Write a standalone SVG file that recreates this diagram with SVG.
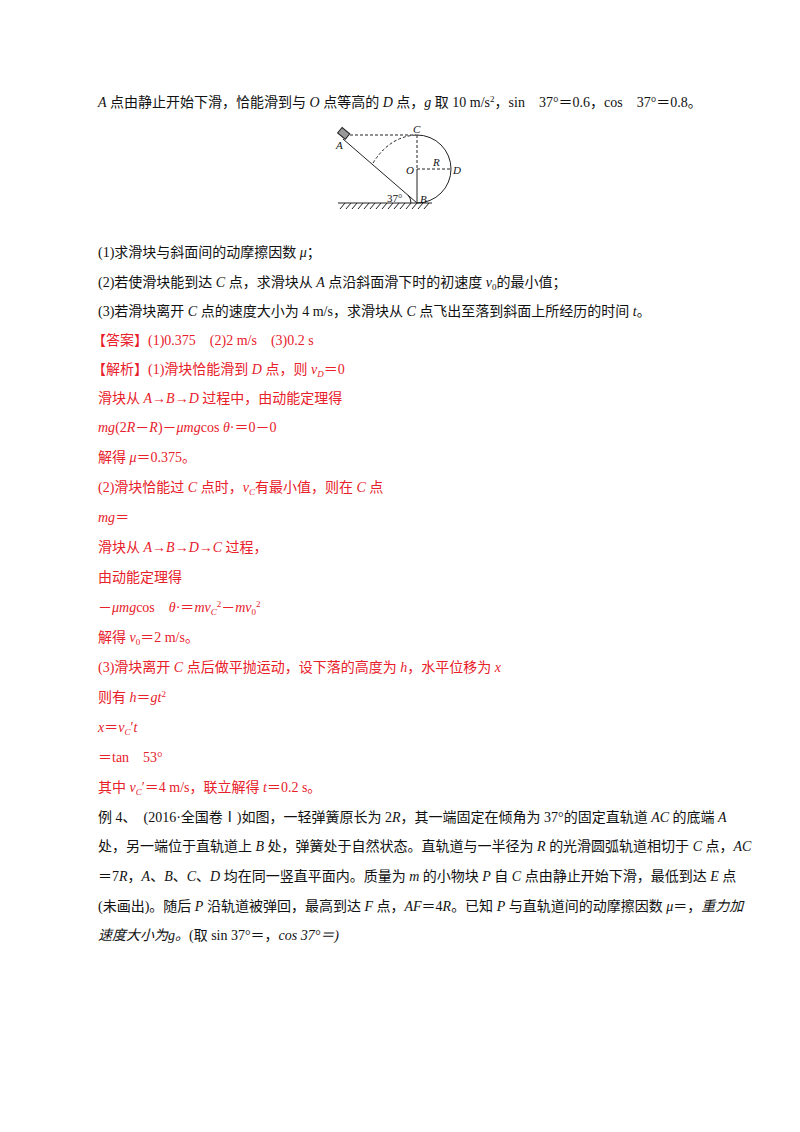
<svg xmlns="http://www.w3.org/2000/svg" width="800" height="1132" viewBox="0 0 800 1132">
<style>
text{font-family:"Liberation Serif","Noto Sans CJK SC",serif;font-size:14px;fill:#111}
.r{fill:#e8202a}
.i{font-style:italic}
.s{font-size:9px}
.f line,.f path{stroke:#222;stroke-width:1;fill:none}
.d{stroke-dasharray:3,2}
.l{font-family:"Liberation Serif",serif;font-size:11px;font-style:italic}
</style>
<rect width="800" height="1132" fill="#fff"/>
<text x="98" y="107"><tspan class="i">A</tspan> 点由静止开始下滑，恰能滑到与 <tspan class="i">O</tspan> 点等高的 <tspan class="i">D</tspan> 点，<tspan class="i">g</tspan> 取 10 m/s<tspan class="s" dy="-5">2</tspan><tspan dy="5">，sin　37°＝0.6，cos　37°＝0.8。</tspan></text>
<g id="figure" class="f">
<line x1="338" y1="203" x2="432" y2="203"/>
<path d="M340 209l5-6M346 209l5-6M352 209l5-6M358 209l5-6M364 209l5-6M370 209l5-6M376 209l5-6M382 209l5-6M388 209l5-6M394 209l5-6M400 209l5-6M406 209l5-6M412 209l5-6M418 209l5-6M424 209l5-6"/>
<line x1="343" y1="139" x2="417" y2="203"/>
<rect x="339" y="130" width="10" height="7" transform="rotate(40 344 133)" fill="#999" stroke="#222"/>
<line class="d" x1="350" y1="135" x2="417" y2="135"/>
<line class="d" x1="417" y1="135" x2="417" y2="169"/>
<line x1="417" y1="169" x2="417" y2="203"/>
<line class="d" x1="417" y1="169" x2="451" y2="169"/>
<path d="M417 135A34 34 0 0 1 417 203"/>
<path class="d" d="M373 163Q390 136 417 135"/>
<path d="M408 195A12 12 0 0 1 411 203"/>
<text class="l" x="336" y="149">A</text>
<text class="l" x="413" y="133">C</text>
<text class="l" x="406" y="174">O</text>
<text class="l" x="433" y="166">R</text>
<text class="l" x="453" y="174">D</text>
<text class="l" x="420" y="203">B</text>
<text class="l" x="387" y="202" style="font-style:normal">37°</text>
</g>
<text x="98" y="257">(1)求滑块与斜面间的动摩擦因数 <tspan class="i">μ</tspan>；</text>
<text x="98" y="287">(2)若使滑块能到达 <tspan class="i">C</tspan> 点，求滑块从 <tspan class="i">A</tspan> 点沿斜面滑下时的初速度 <tspan class="i">v</tspan><tspan class="s" dy="3">0</tspan><tspan dy="-3">的最小值；</tspan></text>
<text x="98" y="316">(3)若滑块离开 <tspan class="i">C</tspan> 点的速度大小为 4 m/s，求滑块从 <tspan class="i">C</tspan> 点飞出至落到斜面上所经历的时间 <tspan class="i">t</tspan>。</text>
<text class="r" x="92" y="345">【答案】(1)0.375　(2)2  m/s　(3)0.2 s</text>
<text class="r" x="92" y="374">【解析】(1)滑块恰能滑到 <tspan class="i">D</tspan> 点，则 <tspan class="i">v</tspan><tspan class="s i" dy="3">D</tspan><tspan dy="-3">＝0</tspan></text>
<text class="r" x="98" y="403">滑块从 <tspan class="i">A</tspan>→<tspan class="i">B</tspan>→<tspan class="i">D</tspan> 过程中，由动能定理得</text>
<text class="r" x="98" y="432"><tspan class="i">mg</tspan>(2<tspan class="i">R</tspan>－<tspan class="i">R</tspan>)－<tspan class="i">μmg</tspan>cos  <tspan class="i">θ</tspan>·＝0－0</text>
<text class="r" x="98" y="462">解得 <tspan class="i">μ</tspan>＝0.375。</text>
<text class="r" x="98" y="492">(2)滑块恰能过 <tspan class="i">C</tspan> 点时，<tspan class="i">v</tspan><tspan class="s i" dy="3">C</tspan><tspan dy="-3">有最小值，则在 </tspan><tspan class="i">C</tspan> 点</text>
<text class="r i" x="98" y="522">mg<tspan style="font-style:normal">＝</tspan></text>
<text class="r" x="98" y="552">滑块从 <tspan class="i">A</tspan>→<tspan class="i">B</tspan>→<tspan class="i">D</tspan>→<tspan class="i">C</tspan> 过程，</text>
<text class="r" x="98" y="582">由动能定理得</text>
<text class="r" x="98" y="612">－<tspan class="i">μmg</tspan>cos　<tspan class="i">θ</tspan>·＝<tspan class="i">mv</tspan><tspan class="s i" dy="3">C</tspan><tspan class="s" dy="-8">2</tspan><tspan dy="5">－</tspan><tspan class="i">mv</tspan><tspan class="s" dy="3">0</tspan><tspan class="s" dy="-8">2</tspan></text>
<text class="r" x="98" y="642">解得 <tspan class="i">v</tspan><tspan class="s" dy="3">0</tspan><tspan dy="-3">＝2  m/s。</tspan></text>
<text class="r" x="98" y="672">(3)滑块离开 <tspan class="i">C</tspan> 点后做平抛运动，设下落的高度为 <tspan class="i">h</tspan>，水平位移为 <tspan class="i">x</tspan></text>
<text class="r" x="98" y="702">则有 <tspan class="i">h</tspan>＝<tspan class="i">gt</tspan><tspan class="s" dy="-5">2</tspan></text>
<text class="r" x="98" y="732"><tspan class="i">x</tspan>＝<tspan class="i">v</tspan><tspan class="s i" dy="3">C</tspan><tspan dy="-3">′</tspan><tspan class="i">t</tspan></text>
<text class="r" x="98" y="762">＝tan　53°</text>
<text class="r" x="98" y="792">其中 <tspan class="i">v</tspan><tspan class="s i" dy="3">C</tspan><tspan dy="-3">′＝4 m/s，联立解得 </tspan><tspan class="i">t</tspan>＝0.2 s。</text>
<text x="98" y="822">例 4、　(2016·全国卷Ⅰ)如图，一轻弹簧原长为 2<tspan class="i">R</tspan>，其一端固定在倾角为 37°的固定直轨道 <tspan class="i">AC</tspan> 的底端 <tspan class="i">A</tspan></text>
<text x="98" y="851">处，另一端位于直轨道上 <tspan class="i">B</tspan> 处，弹簧处于自然状态。直轨道与一半径为 <tspan class="i">R</tspan> 的光滑圆弧轨道相切于 <tspan class="i">C</tspan> 点，<tspan class="i">AC</tspan></text>
<text x="98" y="881">＝7<tspan class="i">R</tspan>，<tspan class="i">A</tspan>、<tspan class="i">B</tspan>、<tspan class="i">C</tspan>、<tspan class="i">D</tspan> 均在同一竖直平面内。质量为 <tspan class="i">m</tspan> 的小物块 <tspan class="i">P</tspan> 自 <tspan class="i">C</tspan> 点由静止开始下滑，最低到达 <tspan class="i">E</tspan> 点</text>
<text x="98" y="911">(未画出)。随后 <tspan class="i">P</tspan> 沿轨道被弹回，最高到达 <tspan class="i">F</tspan> 点，<tspan class="i">AF</tspan>＝4<tspan class="i">R</tspan>。已知 <tspan class="i">P</tspan> 与直轨道间的动摩擦因数 <tspan class="i">μ</tspan>＝，<tspan class="i">重力加</tspan></text>
<text class="i" x="98" y="940">速度大小为<tspan>g</tspan>。<tspan style="font-style:normal">(取 sin 37°＝，</tspan>cos 37°＝)</text>
</svg>
